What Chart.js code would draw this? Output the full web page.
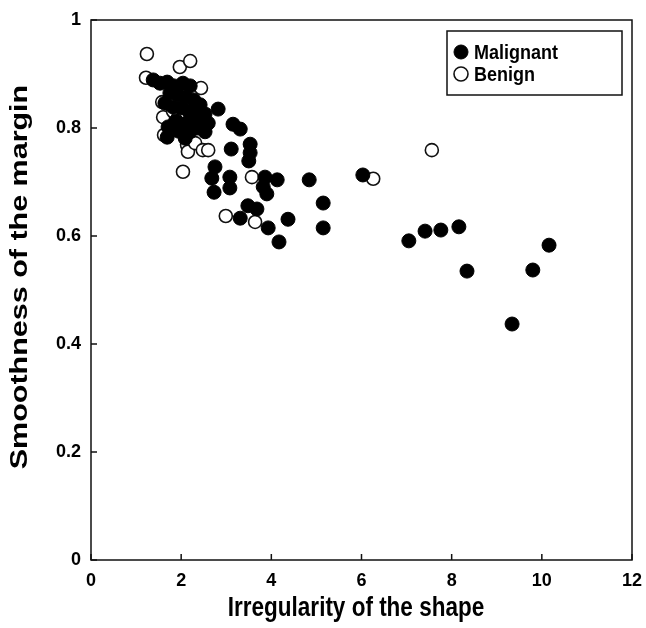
<!DOCTYPE html>
<html><head><meta charset="utf-8">
<script src="https://cdn.jsdelivr.net/npm/chart.js@4.4.0/dist/chart.umd.min.js"></script>
<style>html,body{margin:0;padding:0;background:#fff}#wrap{width:646px;height:628px}</style>
</head><body><div id="wrap"><canvas id="c" width="646" height="628"></canvas></div>
<script>
const seriesNames = ["Malignant", "Benign"];
const xTitle = "Irregularity of the shape";
const yTitle = "Smoothness of the margin";
const xTicks = [0, 2, 4, 6, 8, 10, 12];
const yTicks = [0, 0.2, 0.4, 0.6, 0.8, 1];

const malignantX = [1.38,1.53,1.69,1.84,2.04,2.20,1.75,1.93,2.11,2.28,2.42,1.64,1.82,2.00,2.17,2.35,2.53,1.89,2.11,2.28,2.44,2.60,1.71,1.95,2.20,2.37,2.53,1.69,2.09,
  2.82,3.15,3.31,3.11,3.53,3.53,3.50,2.75,2.68,2.73,3.08,3.08,3.86,4.13,3.82,3.90,3.48,3.68,3.31,3.93,4.17,4.37,4.84,5.15,5.15,6.03,7.05,7.41,7.76,8.16,8.34,9.34,9.80,10.16];
const malignantY = [0.889,0.883,0.885,0.878,0.883,0.878,0.865,0.861,0.857,0.852,0.843,0.846,0.839,0.837,0.831,0.833,0.826,0.813,0.809,0.817,0.813,0.809,0.802,0.794,0.793,0.800,0.793,0.783,0.781,
  0.835,0.807,0.798,0.761,0.770,0.754,0.739,0.728,0.707,0.681,0.709,0.689,0.709,0.704,0.691,0.678,0.656,0.650,0.633,0.615,0.589,0.631,0.704,0.661,0.615,0.713,0.591,0.609,0.611,0.617,0.535,0.437,0.537,0.583];
const benignX = [1.24,1.22,1.97,2.20,2.44,1.58,1.60,1.62,1.82,1.93,2.04,2.13,2.15,2.31,2.48,2.60,2.04,3.57,2.99,3.64,6.26,7.56];
const benignY = [0.937,0.893,0.913,0.924,0.874,0.848,0.820,0.787,0.831,0.819,0.820,0.769,0.756,0.772,0.759,0.759,0.719,0.709,0.637,0.626,0.706,0.759];

const FONT = "'Liberation Sans', Arial, sans-serif";
const pts = (xs, ys) => xs.map((x, i) => ({x, y: ys[i]}));

function stretchedText(ctx, text, cx, cy, angle, sAlong, sAcross, size) {
  ctx.save();
  ctx.translate(cx, cy);
  ctx.rotate(angle);
  ctx.scale(sAlong, sAcross);
  ctx.font = "bold " + size + "px " + FONT;
  ctx.fillStyle = '#000';
  ctx.textAlign = 'center';
  ctx.textBaseline = 'middle';
  ctx.fillText(text, 0, 0);
  ctx.restore();
}

const frame = {
  id: 'frame',
  beforeDatasetsDraw(chart) {
    const {ctx, chartArea: a, scales: {x, y}} = chart;
    ctx.save();
    ctx.strokeStyle = '#111'; ctx.lineWidth = 1.5;
    ctx.strokeRect(a.left, a.top, a.right - a.left, a.bottom - a.top);
    ctx.beginPath();
    xTicks.forEach(v => { const p = x.getPixelForValue(v); ctx.moveTo(p, a.bottom); ctx.lineTo(p, a.bottom - 6); });
    yTicks.forEach(v => { const p = y.getPixelForValue(v); ctx.moveTo(a.left, p); ctx.lineTo(a.left + 6, p); });
    ctx.stroke();
    ctx.restore();
    stretchedText(ctx, xTitle, 356, 609, 0, 1, 1.2, 22.5);
    stretchedText(ctx, yTitle, 20, 277, -Math.PI / 2, 1.27, 1, 24);
  }
};

const legendBox = {
  id: 'legendBox',
  afterDatasetsDraw(chart) {
    const {ctx} = chart;
    const L = 447, T = 31, W = 175, H = 64;
    ctx.save();
    ctx.fillStyle = '#fff';
    ctx.fillRect(L, T, W, H);
    ctx.strokeStyle = '#111'; ctx.lineWidth = 1.5;
    ctx.strokeRect(L, T, W, H);
    chart.data.datasets.forEach((ds, i) => {
      const cy = T + 21 + i * 22;
      ctx.beginPath();
      ctx.arc(L + 14, cy, 7, 0, Math.PI * 2);
      ctx.fillStyle = ds.backgroundColor; ctx.fill();
      ctx.lineWidth = ds.borderWidth; ctx.strokeStyle = ds.borderColor; ctx.stroke();
      ctx.save();
      ctx.translate(L + 27, cy + 1);
      ctx.scale(1, 1.15);
      ctx.fillStyle = '#000';
      ctx.font = "bold 18px " + FONT;
      ctx.textBaseline = 'middle';
      ctx.fillText(ds.label, 0, 0);
      ctx.restore();
    });
    ctx.restore();
  }
};

new Chart(document.getElementById('c'), {
  type: 'scatter',
  data: {
    datasets: [
      {label: seriesNames[0], data: pts(malignantX, malignantY), backgroundColor: '#000', borderColor: '#000', borderWidth: 1, pointRadius: 7, pointHoverRadius: 7},
      {label: seriesNames[1], data: pts(benignX, benignY), backgroundColor: '#fff', borderColor: '#111', borderWidth: 1.6, pointRadius: 6.5, pointHoverRadius: 6.5}
    ]
  },
  options: {
    responsive: false,
    animation: false,
    devicePixelRatio: 1,
    layout: {padding: {left: 0, right: 14, top: 20, bottom: 0}},
    plugins: {legend: {display: false}, tooltip: {enabled: false}},
    scales: {
      x: {
        type: 'linear', min: 0, max: 12,
        afterFit: s => { s.height = 68; s.paddingLeft = 0; s.paddingRight = 0; },
        afterBuildTicks: s => { s.ticks = xTicks.map(v => ({value: v})); },
        grid: {display: false, drawTicks: false}, border: {display: false},
        ticks: {color: '#000', padding: 10, font: {family: FONT, size: 18, weight: 'bold'}, callback: v => String(v), maxRotation: 0},
        title: {display: false}
      },
      y: {
        type: 'linear', min: 0, max: 1,
        afterFit: s => { s.width = 91; s.paddingTop = 0; s.paddingBottom = 0; },
        afterBuildTicks: s => { s.ticks = yTicks.map(v => ({value: v})); },
        grid: {display: false, drawTicks: false}, border: {display: false},
        ticks: {color: '#000', padding: 10, font: {family: FONT, size: 18, weight: 'bold'}, callback: v => String(+v.toFixed(1))},
        title: {display: false}
      }
    }
  },
  plugins: [frame, legendBox]
});
</script></body></html>
